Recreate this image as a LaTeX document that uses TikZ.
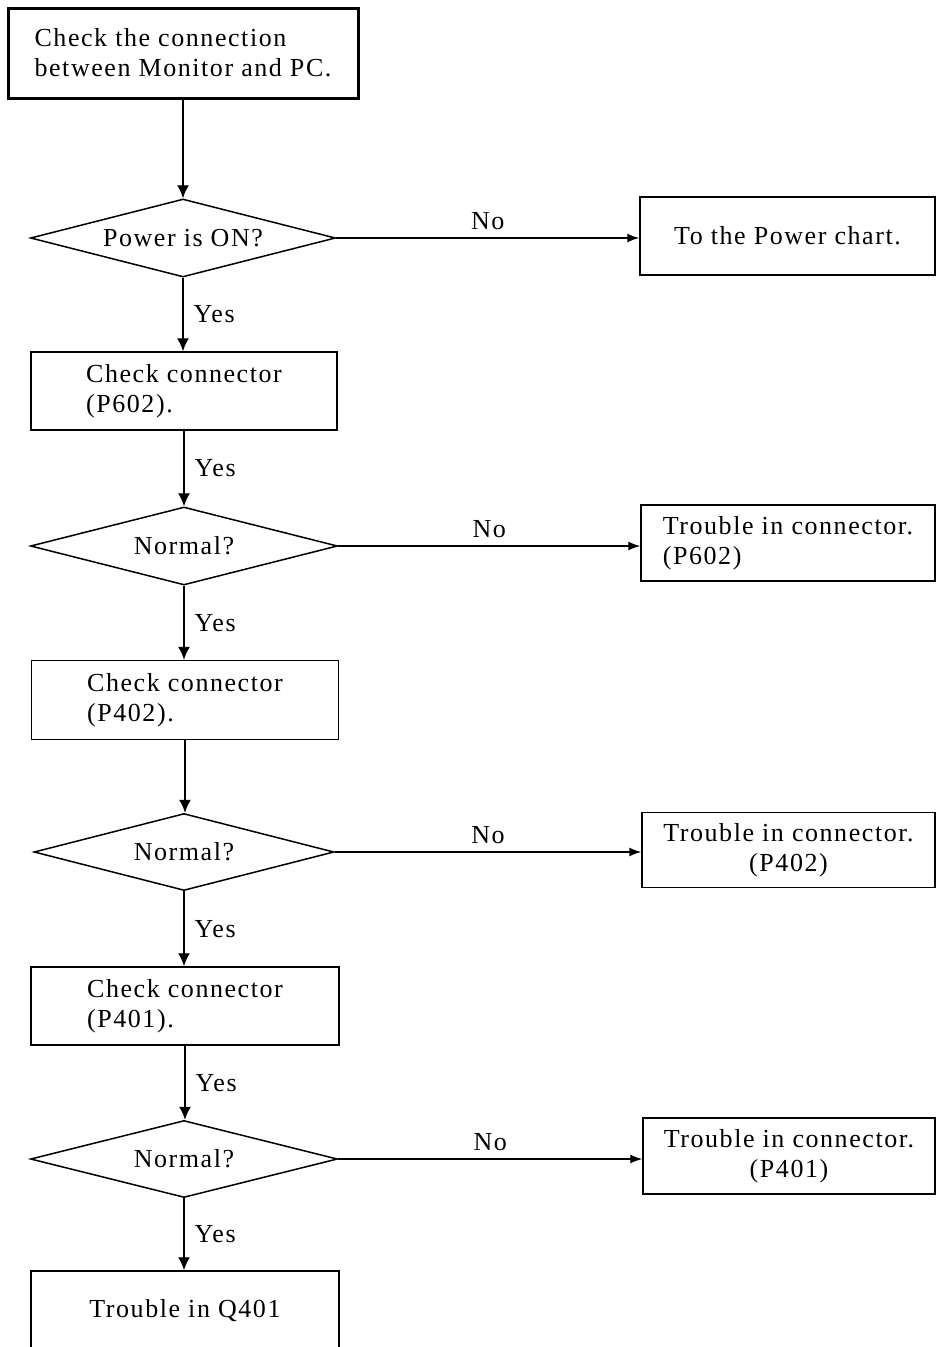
\documentclass[tikz,border=0pt]{standalone}
\usepackage{fontspec}
\setmainfont[LetterSpace=6]{Liberation Serif}
\usetikzlibrary{shapes.geometric,arrows.meta}
\begin{document}
\begin{tikzpicture}[x=1pt,y=-1pt,
  every node/.style={font=\fontsize{26}{30}\selectfont, inner sep=0pt},
  box/.style={draw, line width=1.5pt, rectangle},
  dec/.style={draw, line width=1.5pt, diamond, aspect=3.9},
  arr/.style={line width=1.4pt, -{Latex[length=13pt,width=12pt]}},
  harr/.style={line width=1.4pt, -{Latex[length=12pt,width=9pt]}},
  ylab/.style={right=10pt},
  nlab/.style={above=8pt}
]
\useasboundingbox (0,0) rectangle (936,1347);
% left column
\node[box, line width=3pt, minimum width=350pt, minimum height=90pt, align=left] (top) at (183,53) {Check the connection\\between Monitor and PC.};
\node[dec, minimum width=305pt, minimum height=78pt] (d1) at (183,238) {Power is ON?};
\node[box, minimum width=306pt, minimum height=78pt, align=left] (c1) at (184,391) {Check connector\\(P602).};
\node[dec, minimum width=307pt, minimum height=78pt] (d2) at (184,546) {Normal?};
\node[box, minimum width=307pt, minimum height=79pt, align=left] (c2) at (185,700) {Check connector\\(P402).};
\node[dec, minimum width=300pt, minimum height=77pt] (d3) at (184,852) {Normal?};
\node[box, minimum width=308pt, minimum height=78pt, align=left] (c3) at (185,1006) {Check connector\\(P401).};
\node[dec, minimum width=307pt, minimum height=77pt] (d4) at (184,1159) {Normal?};
\node[box, minimum width=308pt, minimum height=80pt] (c4) at (185,1311) {Trouble in Q401};
% right column
\node[box, minimum width=295pt, minimum height=78pt] (pw) at (787.5,236) {To the Power chart.};
\node[box, minimum width=294pt, minimum height=76pt, align=left] (t1) at (788,543) {Trouble in connector.\\(P602)};
\node[box, minimum width=293pt, minimum height=75pt, align=center] (t2) at (788.5,850) {Trouble in connector.\\(P402)};
\node[box, minimum width=292pt, minimum height=76pt, align=center] (t3) at (789,1156) {Trouble in connector.\\(P401)};
% connectors
\draw[arr] (top) -- (d1);
\draw[arr] (d1.south) -- node[ylab]{Yes} (d1.south |- c1.north);
\draw[arr] (c1.south) -- node[ylab]{Yes} (c1.south |- d2.north);
\draw[arr] (d2.south) -- node[ylab]{Yes} (d2.south |- c2.north);
\draw[arr] (c2.south) -- (c2.south |- d3.north);
\draw[arr] (d3.south) -- node[ylab]{Yes} (d3.south |- c3.north);
\draw[arr] (c3.south) -- node[ylab]{Yes} (c3.south |- d4.north);
\draw[arr] (d4.south) -- node[ylab]{Yes} (d4.south |- c4.north);
\draw[harr] (d1.east) -- node[nlab]{No} (d1.east -| pw.west);
\draw[harr] (d2.east) -- node[nlab]{No} (d2.east -| t1.west);
\draw[harr] (d3.east) -- node[nlab]{No} (d3.east -| t2.west);
\draw[harr] (d4.east) -- node[nlab]{No} (d4.east -| t3.west);
\end{tikzpicture}
\end{document}
